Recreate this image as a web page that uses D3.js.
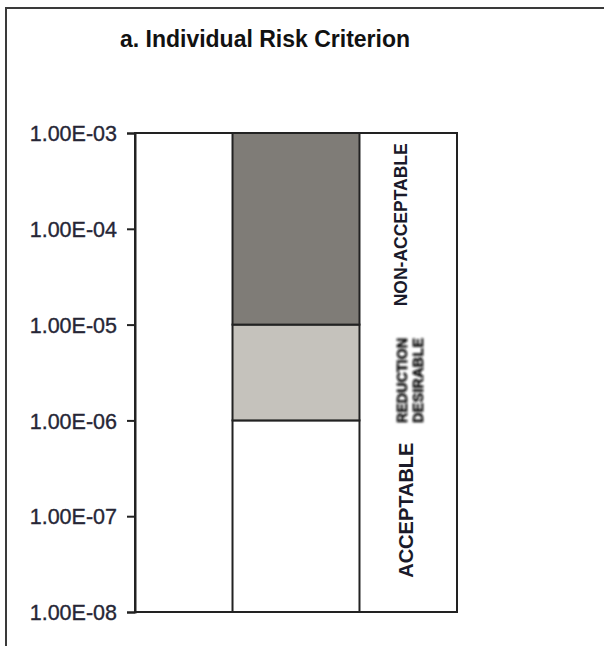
<!DOCTYPE html>
<html>
<head>
<meta charset="utf-8">
<script src="https://cdn.jsdelivr.net/npm/d3@7"></script>
<style>
  html, body { margin: 0; padding: 0; background: #fff; }
  svg { display: block; font-family: "Liberation Sans", Arial, sans-serif; }
</style>
</head>
<body>
<svg id="chart" width="604" height="646"></svg>
<script>
// Risk bands for the individual risk criterion (annual probability)
const categories = ["Individual risk"];
const zoneNames = ["ACCEPTABLE", "REDUCTION DESIRABLE", "NON-ACCEPTABLE"];
const zoneLower = [1e-8, 1e-6, 1e-5];
const zoneUpper = [1e-6, 1e-5, 1e-3];
const zoneFill = ["#ffffff", "#c5c2bc", "#7f7c77"];
const tickValues = [1e-3, 1e-4, 1e-5, 1e-6, 1e-7, 1e-8];
const tickLabels = ["1.00E-03", "1.00E-04", "1.00E-05", "1.00E-06", "1.00E-07", "1.00E-08"];

const svg = d3.select("#chart");
const W = 604, H = 646;
const plot = { left: 135, right: 457, top: 133, bottom: 612 };

// outer chart frame (runs off the right and bottom edges)
svg.append("rect")
  .attr("x", 6).attr("y", 8)
  .attr("width", W + 20).attr("height", H + 20)
  .attr("fill", "#fff").attr("stroke", "#3a3a3a").attr("stroke-width", 2);

// title
svg.append("text")
  .attr("x", 265).attr("y", 47)
  .attr("text-anchor", "middle")
  .attr("font-size", 23).attr("font-weight", "bold")
  .attr("fill", "#111")
  .text("a. Individual Risk Criterion");

const y = d3.scaleLog().domain([1e-8, 1e-3]).range([plot.bottom, plot.top]);
const x = d3.scaleBand().domain(categories)
  .range([plot.left, plot.right])
  .paddingInner(0).paddingOuter(0.768);

// stacked risk zones
const zones = zoneNames.map((name, i) => ({ name, lo: zoneLower[i], hi: zoneUpper[i], fill: zoneFill[i] }));
svg.append("g").selectAll("rect").data(zones).join("rect")
  .attr("x", x(categories[0]))
  .attr("width", x.bandwidth())
  .attr("y", d => y(d.hi))
  .attr("height", d => y(d.lo) - y(d.hi))
  .attr("fill", d => d.fill)
  .attr("stroke", "#222").attr("stroke-width", 2);

// plot area border
svg.append("rect")
  .attr("x", plot.left).attr("y", plot.top)
  .attr("width", plot.right - plot.left).attr("height", plot.bottom - plot.top)
  .attr("fill", "none").attr("stroke", "#222").attr("stroke-width", 2);

// y axis
const axis = d3.axisLeft(y)
  .tickValues(tickValues)
  .tickFormat((d, i) => tickLabels[i])
  .tickSize(8).tickPadding(10);
const gAxis = svg.append("g")
  .attr("transform", `translate(${plot.left},0)`)
  .call(axis);
gAxis.select(".domain").attr("stroke", "#222").attr("stroke-width", 2);
gAxis.selectAll(".tick line").attr("stroke", "#222").attr("stroke-width", 2);
gAxis.selectAll(".tick text")
  .attr("font-size", 21.5)
  .attr("font-family", "'Liberation Sans', Arial, sans-serif")
  .attr("fill", "#262636")
  .attr("stroke", "#262636").attr("stroke-width", 0.35)
  .attr("dy", "0.36em");

// zone labels in the right-hand column
const defs = svg.append("defs");
defs.append("filter").attr("id", "soft")
  .attr("x", "-50%").attr("y", "-20%").attr("width", "200%").attr("height", "140%")
  .append("feGaussianBlur").attr("stdDeviation", 1.2);

const geo = d => Math.sqrt(d.lo * d.hi);

// NON-ACCEPTABLE
svg.append("text")
  .attr("transform", `translate(407,${y(geo(zones[2])) - 4}) rotate(-90)`)
  .attr("text-anchor", "middle")
  .attr("font-size", 17.5).attr("font-weight", "bold").attr("fill", "#1a1a2a")
  .text(zones[2].name);

// ACCEPTABLE
svg.append("text")
  .attr("transform", `translate(413,${y(geo(zones[0])) - 6}) rotate(-90)`)
  .attr("text-anchor", "middle")
  .attr("font-size", 20).attr("font-weight", "bold").attr("fill", "#1a1a2a")
  .text(zones[0].name);

// REDUCTION DESIRABLE (two stacked lines, soft)
const redWords = zones[1].name.split(" ");
const gRed = svg.append("g").attr("filter", "url(#soft)");
redWords.forEach((w, i) => {
  gRed.append("text")
    .attr("transform", `translate(${407 + i * 16},${y(geo(zones[1])) + 8}) rotate(-90)`)
    .attr("text-anchor", "middle")
    .attr("font-size", 14.5).attr("font-weight", "bold").attr("fill", "#111")
    .attr("stroke", "#111").attr("stroke-width", 0.6)
    .attr("textLength", 85).attr("lengthAdjust", "spacingAndGlyphs")
    .text(w);
});
</script>
</body>
</html>
